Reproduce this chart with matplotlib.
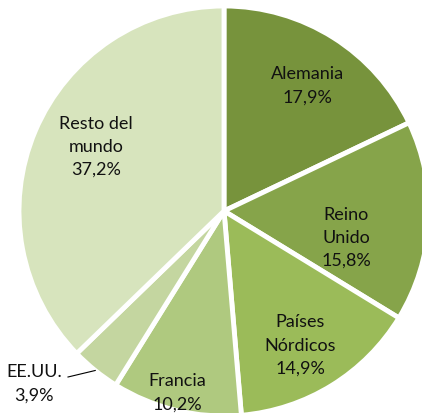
import numpy as np
from matplotlib import pyplot as plt

countries = ['Alemania', 'Reino\nUnido', 'Países\nNórdicos', 'Francia', 'EE.UU.', 'Resto del\nmundo']
shares = [17.9, 15.8, 14.9, 10.2, 3.9, 37.2]
colors = ['#77933C', '#86A44A', '#9BBB59', '#AFC97F', '#C4D6A0', '#D7E4BD']

# label placement (radius as fraction, angle nudge in degrees), Excel-ish best fit
labRad = [0.74, 0.61, 0.75, 0.91, None, 0.70]
labNudge = [-1.3, -9.0, -2.0, -1.0, 0, -4.0]

plt.rcParams['font.family'] = ['Lato', 'DejaVu Sans']
fig = plt.figure(figsize=(4.22, 4.14), dpi=100)
ax = fig.add_axes([0, 0, 1, 1])
wedges, _ = ax.pie(shares, colors=colors, startangle=90, counterclock=False,
                   wedgeprops=dict(edgecolor='white', linewidth=3.5))
ax.set_aspect('auto')
pxPerUnit = 205
cx, cy = 224, 212
ax.set_xlim(-cx / pxPerUnit, (422 - cx) / pxPerUnit)
ax.set_ylim(-(414 - cy) / pxPerUnit, cy / pxPerUnit)
ax.axis('off')

txtKw = dict(ha='center', va='center', fontsize=13, color='#111111', linespacing=1.55)
for w, name, pct, r, nudge in zip(wedges, countries, shares, labRad, labNudge):
    mid = np.deg2rad((w.theta1 + w.theta2) / 2 + nudge)
    txt = f'{name}\n' + f'{pct:.1f}%'.replace('.', ',')
    if r is None:
        # outside label with leader line
        ex, ey = np.cos(mid), np.sin(mid)
        ax.plot([ex, (68 - cx) / pxPerUnit], [ey, (cy - 378) / pxPerUnit], color='black', lw=0.8)
        ax.text((34 - cx) / pxPerUnit, (cy - 384) / pxPerUnit, txt, **txtKw)
    else:
        ax.text(r * np.cos(mid), r * np.sin(mid), txt, **txtKw)

fig.savefig('out.png', dpi=100)
